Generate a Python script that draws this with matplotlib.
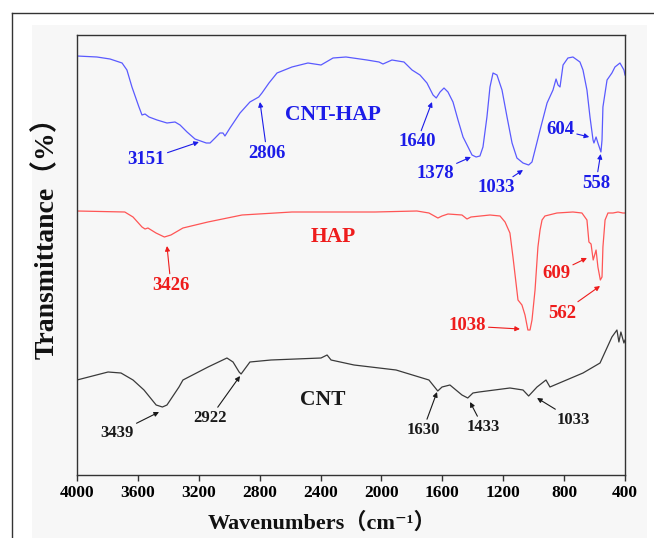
import numpy as np
import matplotlib
matplotlib.use("Agg")
import matplotlib.pyplot as plt
from matplotlib.patches import Rectangle
from matplotlib.lines import Line2D

# ---- data -----------------------------------------------------------------
x_ticks = [4000, 3600, 3200, 2800, 2400, 2000, 1600, 1200, 800, 400]

# CNT-HAP spectrum (stacked, arbitrary transmittance units)
cnthap_wn = [4000, 3869, 3783, 3704, 3672, 3639, 3593, 3573, 3553, 3527, 3474,
             3409, 3356, 3323, 3277, 3225, 3151, 3126, 3093, 3061, 3041, 3028,
             2995, 2929, 2864, 2806, 2785, 2739, 2686, 2588, 2483, 2397, 2318,
             2233, 2095, 2016, 1990, 1931, 1852, 1799, 1747, 1701, 1661, 1640,
             1615, 1589, 1563, 1530, 1497, 1464, 1431, 1405, 1378, 1353, 1333,
             1307, 1287, 1267, 1241, 1208, 1175, 1142, 1110, 1070, 1033, 1011,
             991, 958, 912, 873, 853, 840, 827, 807, 775, 742, 696, 676, 650,
             630, 610, 604, 590, 578, 558, 551, 545, 518, 486, 466, 433, 407, 400]
cnthap_t = [419, 418, 416, 412, 405, 388, 368, 360, 361, 358, 355,
            352, 353, 350, 343, 336, 332, 332, 337, 342, 342, 339,
            347, 362, 373, 378, 382, 392, 402, 408, 412, 410, 417,
            418, 415, 413, 411, 415, 413, 405, 400, 392, 380, 377,
            383, 387, 383, 373, 355, 338, 328, 320, 318, 319, 328,
            358, 388, 402, 400, 385, 358, 332, 317, 312, 310, 313,
            325, 345, 372, 385, 396, 390, 388, 410, 417, 418, 413, 405, 385,
            358, 335, 332, 338, 332, 323, 335, 368, 395, 402, 408, 412, 405, 400]

# HAP spectrum
hap_wn = [4000, 3686, 3632, 3573, 3553, 3534, 3481, 3426, 3383, 3304, 3140,
          2916, 2588, 2043, 1767, 1688, 1629, 1602, 1563, 1471, 1438, 1412,
          1287, 1221, 1188, 1156, 1136, 1116, 1103, 1077, 1057, 1038, 1024,
          1011, 991, 972, 958, 945, 926, 847, 742, 683, 650, 637, 623, 609,
          590, 578, 562, 551, 545, 531, 512, 479, 446, 414, 400]
hap_t = [264, 263, 258, 248, 246, 247, 242, 238, 240, 247, 253,
         260, 263, 263, 264, 262, 257, 259, 261, 260, 256, 258,
         260, 259, 253, 242, 218, 192, 175, 170, 160, 145, 145,
         155, 185, 228, 245, 255, 259, 262, 263, 262, 255, 233, 231, 215,
         225, 208, 195, 198, 228, 255, 262, 262, 263, 262, 262]

# CNT spectrum
cnt_wn = [4000, 3796, 3711, 3632, 3560, 3480, 3439, 3409, 3330, 3304, 3139,
          3015, 2975, 2935, 2922, 2864, 2726, 2397, 2357, 2331, 2180, 1904,
          1688, 1630, 1602, 1550, 1471, 1433, 1399, 1359, 1156, 1070, 1033,
          978, 919, 893, 676, 564, 486, 453, 440, 427, 407, 400]
cnt_t = [95, 103, 102, 95, 85, 70, 68, 70, 88, 95, 108,
         117, 113, 103, 101, 113, 115, 117, 120, 115, 110, 105,
         95, 84, 88, 90, 80, 77, 82, 83, 87, 85, 79,
         88, 95, 88, 102, 112, 138, 145, 133, 143, 132, 135]

# peak labels: (text, text position, arrow tip) in (wavenumber, transmittance)
cnthap_peaks = [("3151", (3547, 315), (3199, 333)),
                ("2806", (2752, 322), (2798, 373)),
                ("1640", (1767, 333), (1668, 373)),
                ("1378", (1648, 302), (1412, 318)),
                ("1033", (1248, 287), (1070, 305)),
                ("604", (827, 345), (635, 338)),
                ("558", (591, 292), (560, 321))]
hap_peaks = [("3426", (3383, 190), (3409, 229)),
             ("1038", (1438, 149), (1090, 146)),
             ("609", (853, 202), (650, 217)),
             ("562", (814, 162), (564, 189))]
cnt_peaks = [("3439", (3737, 42), (3461, 63)),
             ("2922", (3126, 57), (2929, 99)),
             ("1630", (1727, 45), (1635, 83)),
             ("1433", (1333, 48), (1418, 73)),
             ("1033", (742, 55), (978, 77))]

series_names = [("CNT-HAP", (2318, 360)), ("HAP", (2318, 238)), ("CNT", (2384, 75))]

# ---- style ----------------------------------------------------------------
W, H, DPI = 654, 538, 100
SERIF = ["Liberation Serif", "Noto Sans CJK SC", "DejaVu Serif"]
plt.rcParams["font.family"] = SERIF

blue_line, blue_text = "#5a5aff", "#1c1ce8"
red_line, red_text = "#ff5555", "#ee1c1c"
black_line, black_text = "#3a3a3a", "#1a1a1a"

fig = plt.figure(figsize=(W / DPI, H / DPI), dpi=DPI)
fig.patch.set_facecolor("white")

def fx(px):
    return px / W

def fy(py):
    return 1 - py / H

# faint panel and outer frame
fig.add_artist(Rectangle((fx(32), 0), fx(647) - fx(32), fy(25),
                         transform=fig.transFigure, facecolor="#f7f7f7",
                         edgecolor="none", zorder=0))
fig.add_artist(Line2D([fx(12), fx(12)], [0, fy(13)], transform=fig.transFigure,
                      color="#333333", lw=1.0))
fig.add_artist(Line2D([fx(12), 1], [fy(13), fy(13)], transform=fig.transFigure,
                      color="#333333", lw=1.0))

ax = fig.add_axes([fx(77), fy(475), fx(625) - fx(77), fy(35) - fy(475)])
ax.set_facecolor("none")

ax.plot(cnthap_wn, cnthap_t, color=blue_line, lw=0.9)
ax.plot(hap_wn, hap_t, color=red_line, lw=0.9)
ax.plot(cnt_wn, cnt_t, color=black_line, lw=0.9)

ax.set_xlim(4000, 400)
ax.set_ylim(0, 440)
ax.set_xticks(x_ticks)
ax.set_xticklabels([str(t) for t in x_ticks], fontsize=12.5, fontweight="bold",
                   family=SERIF)
ax.tick_params(axis="x", direction="out", length=4, width=1, color="#333333", pad=3)
ax.set_yticks([])
for s in ax.spines.values():
    s.set_color("#333333")
    s.set_linewidth(1.0)

def label_peaks(peaks, color, size):
    for text, xy_text, xy_tip in peaks:
        ax.annotate(text, xy=xy_tip, xytext=xy_text, ha="center", va="center",
                    fontsize=size, fontweight="bold", color=color, family=SERIF,
                    arrowprops=dict(arrowstyle="-|>", color=color, lw=0.8,
                                    mutation_scale=7, shrinkA=0, shrinkB=0))

label_peaks(cnthap_peaks, blue_text, 13.5)
label_peaks(hap_peaks, red_text, 13.5)
label_peaks(cnt_peaks, black_text, 12)

for (name, pos), c in zip(series_names, [blue_text, red_text, black_text]):
    ax.text(pos[0], pos[1], name, ha="center", va="center", fontsize=15.5,
            fontweight="bold", color=c, family=SERIF)

fig.text(fx(47), fy(231), "Transmittance（%）", rotation=90, ha="center",
         va="center", fontsize=20, fontweight="bold", family=SERIF, color="#111111")
fig.text(fx(322), fy(523), "Wavenumbers（cm⁻¹）", ha="center", va="center",
         fontsize=16, fontweight="bold", family=SERIF, color="#111111")

fig.savefig("out.png", dpi=DPI)
